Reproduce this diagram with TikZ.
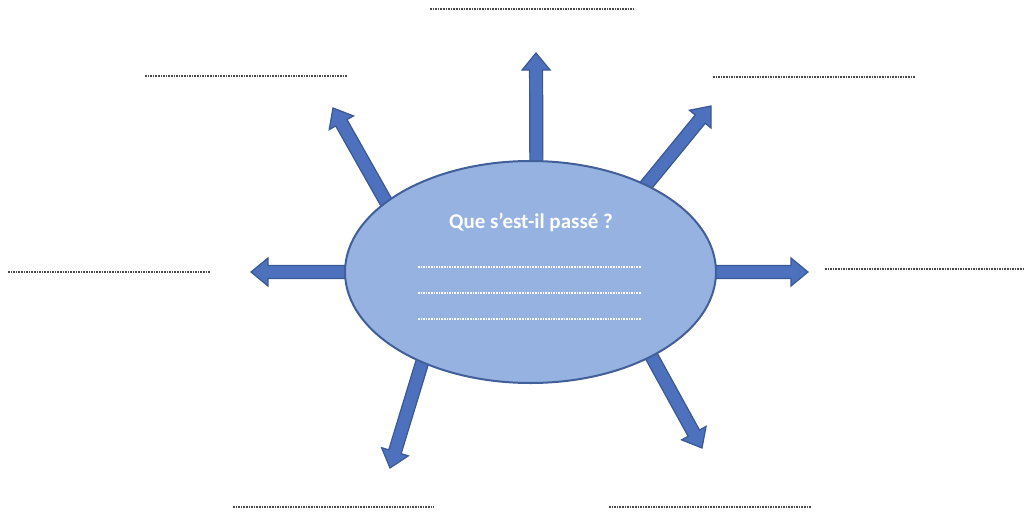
\documentclass[tikz,border=0pt]{standalone}
\usepackage{fontspec}
\setmainfont{Carlito}
\usetikzlibrary{calc,backgrounds,shapes.geometric}
\definecolor{ellfill}{HTML}{95B2E0}
\definecolor{ellline}{HTML}{41609A}
\definecolor{arrfill}{HTML}{4E71BE}
\definecolor{arrline}{HTML}{3A5894}
\definecolor{dotcol}{HTML}{4A4A4A}
\tikzset{
  barrow/.style={fill=arrfill, draw=arrline, line width=1.2pt, line join=miter},
  blank/.style={draw=dotcol, line width=1.8pt, dash pattern=on 1.6pt off 1pt},
  inblank/.style={draw=white, line width=1.8pt, dash pattern=on 1.6pt off 1pt},
  bubble/.style={ellipse, draw=ellline, fill=ellfill, line width=2pt,
    minimum width=371pt, minimum height=222pt, inner sep=0pt},
}
\newcommand{\blockarrow}[2]{%
  \draw[barrow] let \p1=(#1), \p2=(#2),
      \n1={atan2(\y2-\y1,\x2-\x1)}, \n2={veclen(\x2-\x1,\y2-\y1)} in
    (\p1) ++(\n1-90:6.5pt) -- ++(\n1:\n2-17pt) -- ++(\n1-90:7.5pt) -- (\p2)
    -- ++(\n1+180-39.5:22pt) -- ++(\n1-90:7.5pt) -- ++(\n1+180:\n2-17pt) -- cycle;}
\begin{document}
\begin{tikzpicture}[x=1pt,y=-1pt]
\useasboundingbox (0,0) rectangle (1024,511);
\node[bubble] (e) at (530.5,272) {};
\node[font=\bfseries\fontsize{21}{25}\selectfont, text=white, anchor=base] (q) at (531,228) {Que s’est-il passé ?};
\draw[inblank] (418,267) -- (641,267);
\draw[inblank] (418,293) -- (641,293);
\draw[inblank] (418,319) -- (641,319);
% tips
\coordinate (t1) at (536,53);
\coordinate (t2) at (333,108);
\coordinate (t3) at (711,106);
\coordinate (t4) at (251,272);
\coordinate (t5) at (808,272);
\coordinate (t6) at (390,468);
\coordinate (t7) at (702,448);
% starts (slightly inside the bubble)
\coordinate (s1) at ($(e.87)!-12pt!(t1)$);
\coordinate (s2) at ($(e.154.6)!-12pt!(t2)$);
\coordinate (s3) at ($(e.37)!-12pt!(t3)$);
\coordinate (s4) at ($(e.180)!-12pt!(t4)$);
\coordinate (s5) at ($(e.0)!-12pt!(t5)$);
\coordinate (s6) at ($(e.220.8)!-12pt!(t6)$);
\coordinate (s7) at ($(e.-35)!-12pt!(t7)$);
\begin{pgfonlayer}{background}
\blockarrow{s1}{t1}
\blockarrow{s2}{t2}
\blockarrow{s3}{t3}
\blockarrow{s4}{t4}
\blockarrow{s5}{t5}
\blockarrow{s6}{t6}
\blockarrow{s7}{t7}
\end{pgfonlayer}
% blanks
\draw[blank] (430,9) -- (633,9);
\draw[blank] (145,76) -- (347,76);
\draw[blank] (713,77) -- (915,77);
\draw[blank] (8,272) -- (210,272);
\draw[blank] (825,269) -- (1023,269);
\draw[blank] (233,507) -- (434,507);
\draw[blank] (609,507) -- (811,507);
\end{tikzpicture}
\end{document}
